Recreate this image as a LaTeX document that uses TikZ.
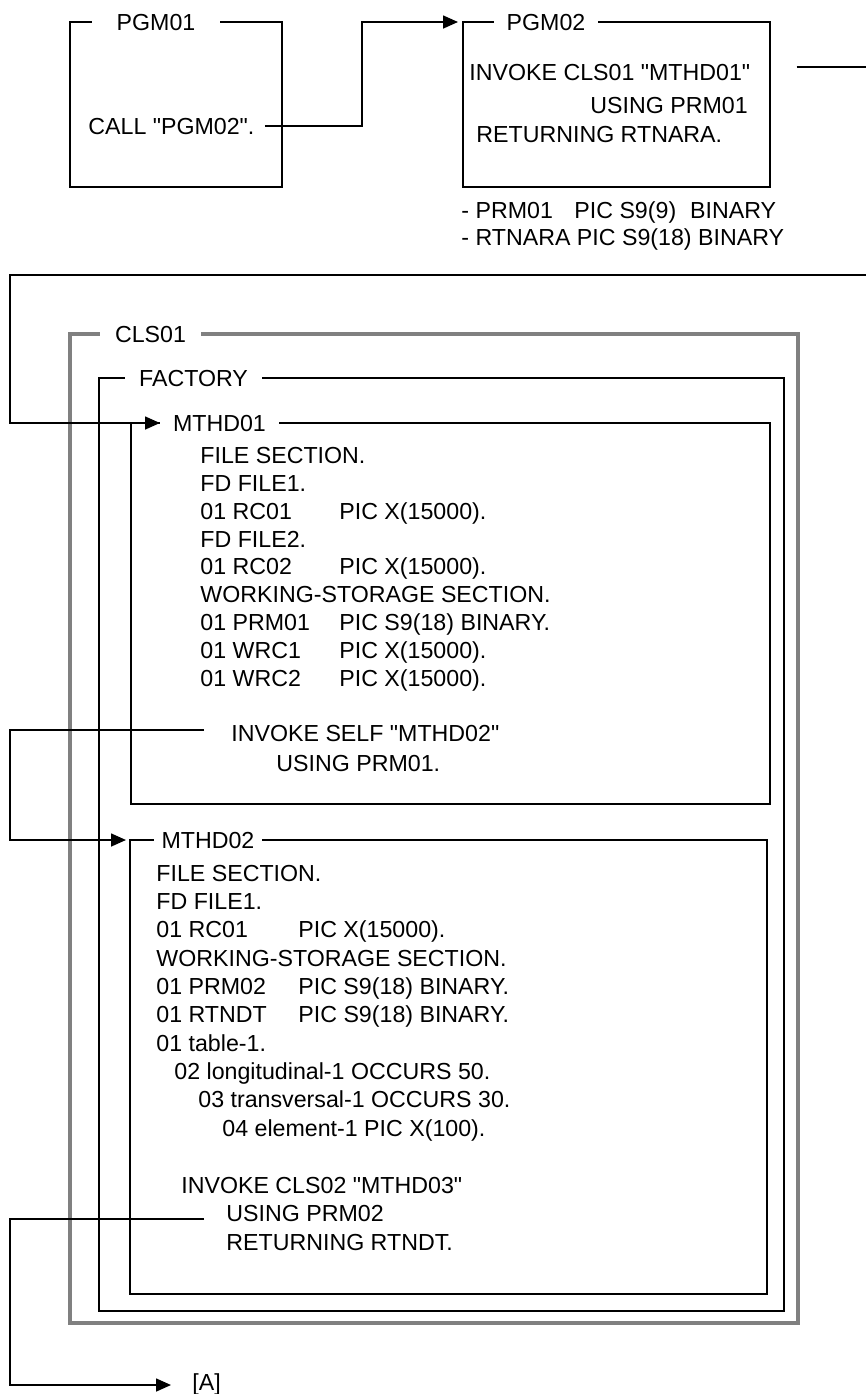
\documentclass[tikz,border=0pt]{standalone}
\usepackage{fontspec}
\setmainfont{Liberation Sans}
\usetikzlibrary{arrows.meta, positioning}

\newcommand{\fld}[2][69.5pt]{\makebox[#1][l]{#2}}
\newcommand{\q}{\textquotedbl}
\tikzset{
  frame/.style={draw, line width=0.8pt, inner sep=0pt, outer sep=0pt, anchor=north west},
  title/.style={fill=white, inner xsep=7pt, inner ysep=2pt, text height=8.3pt, text depth=0pt},
  code/.style={anchor=west, inner sep=0pt, text height=8.3pt, text depth=0pt},
  conn/.style={draw, line width=0.8pt, -{Triangle[length=7.5pt,width=6.5pt]}},
}

\begin{document}
\begin{tikzpicture}[x=0.5pt, y=-0.5pt, font=\fontsize{11.6}{13.9}\selectfont]
    \useasboundingbox (0,0) rectangle (866,1394);

    % Program and class frames
    \node[frame, minimum width=106pt, minimum height=82.5pt] (pgm1) at (70,22) {};
    \node[frame, minimum width=153.5pt, minimum height=82.5pt] (pgm2) at (463,22) {};
    \node[frame, draw=black!50, line width=1.8pt, minimum width=364pt, minimum height=494.5pt] (cls1) at (70,334) {};
    \node[frame, minimum width=342.5pt, minimum height=466.5pt] (fact) at (99,378) {};
    \node[frame, minimum width=319.5pt, minimum height=190.5pt] (mthd1) at (131,423) {};
    \node[frame, minimum width=318.5pt, minimum height=227pt] (mthd2) at (130,840) {};

    % Frame titles
    \node[title, inner xsep=12.5pt] (tpgm1) at (156,22) {PGM01};
    \node[title, inner xsep=6.25pt] (tpgm2) at (546,22) {PGM02};
    \node[title, inner xsep=7.5pt] (tcls1) at (150.5,334) {CLS01};
    \node[title] (tfact) at (193.5,378) {FACTORY};
    \node[title, inner xsep=6.5pt] (tmthd1) at (219.5,423) {MTHD01};
    \node[title, inner xsep=4pt] (tmthd2) at (208,840) {MTHD02};

    % PGM01 and PGM02
    \node[code] (call) at (88,126) {CALL \q PGM02\q.};
    \node[code] (inv1) at (469,72) {INVOKE CLS01 \q MTHD01\q};
    \node[code] (use1) at (590,105) {USING PRM01};
    \node[code] (ret1) at (476,134) {RETURNING RTNARA.};
    \node[code] (note1) at (461,210) {\fld[56.5pt]{- PRM01}PIC S9(9)\hspace{7pt}BINARY};
    \node[code] (note2) at (461,237) {- RTNARA PIC S9(18) BINARY};

    % MTHD01
    \foreach \t [count=\i from 0] in {FILE SECTION., FD FILE1., \fld{01 RC01}PIC X(15000)., FD FILE2.,
        \fld{01 RC02}PIC X(15000)., WORKING-STORAGE SECTION., \fld{01 PRM01}PIC S9(18) BINARY.,
        \fld{01 WRC1}PIC X(15000)., \fld{01 WRC2}PIC X(15000).}
        \node[code] (ma\i) at (200,455+27.9*\i) {\t};
    \node[code] (self) at (231,733) {INVOKE SELF \q MTHD02\q};
    \node[code] (use2) at (276,763) {USING PRM01.};

    % MTHD02
    \foreach \t [count=\i from 0] in {FILE SECTION., FD FILE1., \fld[71pt]{01 RC01}PIC X(15000).,
        WORKING-STORAGE SECTION., \fld[71pt]{01 PRM02}PIC S9(18) BINARY., \fld[71pt]{01 RTNDT}PIC S9(18) BINARY.,
        01 table-1., \hspace{9pt}02 longitudinal-1 OCCURS 50., \hspace{21pt}03 transversal-1 OCCURS 30.,
        \hspace{33pt}04 element-1 PIC X(100).}
        \node[code] (mb\i) at (156,873+28.3*\i) {\t};
    \node[code] (inv3) at (181,1185) {INVOKE CLS02 \q MTHD03\q};
    \node[code] (use3) at (226,1213) {USING PRM02};
    \node[code] (ret3) at (226,1242) {RETURNING RTNDT.};
    \node[code] (lblA) at (192,1382) {[A]};

    % Connectors
    \coordinate (outR) at (866,67);
    \coordinate (inR) at (866,275);
    \coordinate (railT) at (10,423);
    \coordinate (railM) at (10,840);
    \coordinate (railB) at (10,1385);
    \draw[conn] ([xshift=5pt]call.east) -- ++(97,0) |- ([xshift=-2.5pt]pgm2.north west);
    \draw[line width=0.8pt] ([xshift=23pt, yshift=2.5pt]inv1.east) -- (outR);
    \draw[conn] (inR) -| (railT) -- ([xshift=14.5pt]mthd1.north west);
    \draw[conn] ([xshift=-13.5pt, yshift=1.5pt]self.west) -| (railM) -- ([xshift=-2pt]mthd2.north west);
    \draw[conn] ([xshift=-11pt, yshift=-3pt]use3.west) -| (railB) -- ([xshift=-10.5pt, yshift=-1.5pt]lblA.west);
\end{tikzpicture}
\end{document}
